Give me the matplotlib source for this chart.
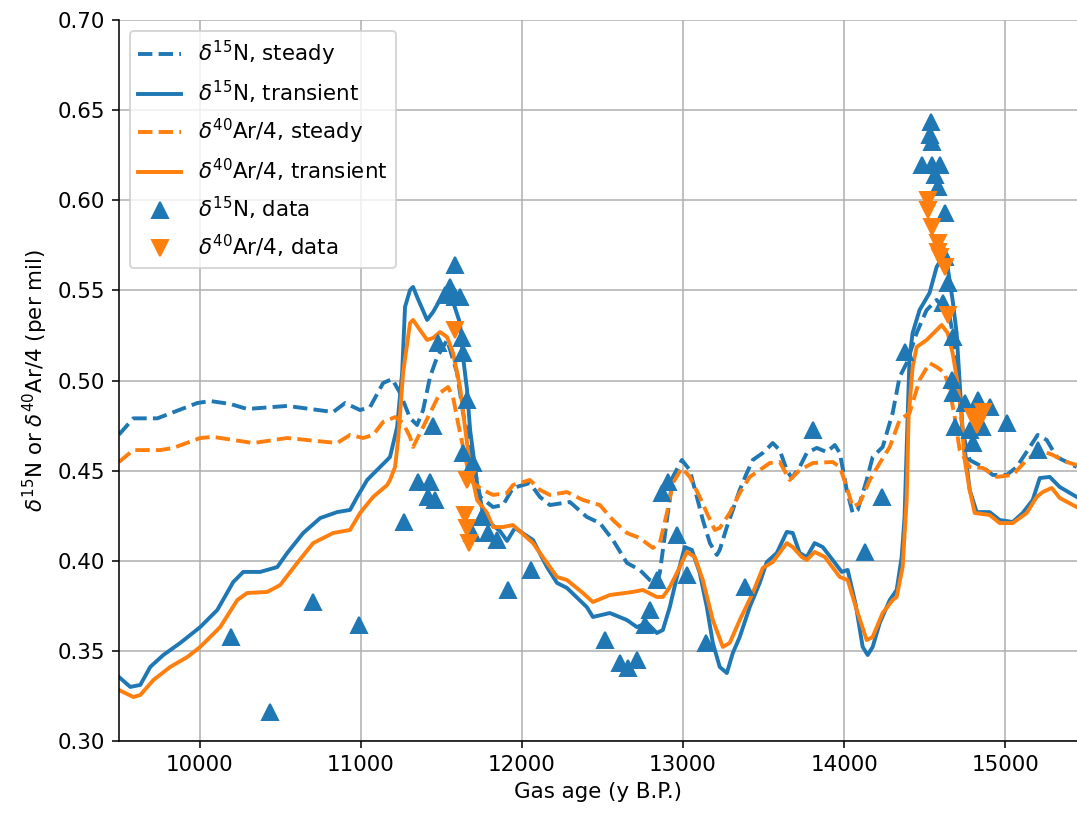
import matplotlib
matplotlib.use("Agg")
import matplotlib.pyplot as plt
import numpy as np

plt.rcParams["font.size"] = 11
plt.rcParams["lines.linewidth"] = 2

# Modelled d15N, steady-state firn
age_n_steady = [9500, 9589, 9738, 9986, 10066, 10190, 10295, 10544, 10829, 10903, 10996, 11058,
                11139, 11195, 11244, 11306, 11350, 11387, 11430, 11474, 11511, 11536, 11598, 11635,
                11679, 11741, 11821, 11883, 11945, 12050, 12112, 12174, 12298, 12403, 12484, 12565,
                12652, 12732, 12794, 12838, 12856, 12900, 12937, 12993, 13042, 13086, 13123, 13167,
                13210, 13228, 13272, 13309, 13352, 13396, 13433, 13495, 13557, 13600, 13644, 13675,
                13724, 13768, 13830, 13892, 13942, 13973, 14016, 14053, 14084, 14140, 14177, 14239,
                14301, 14344, 14388, 14450, 14512, 14574, 14611, 14655, 14673, 14698, 14717, 14736,
                14779, 14860, 14922, 15009, 15071, 15152, 15201, 15257, 15319, 15443]
n_steady = [0.470, 0.479, 0.479, 0.4875, 0.4886, 0.487, 0.4842, 0.4859, 0.4825, 0.4875, 0.4836, 0.4853,
            0.4986, 0.5008, 0.4931, 0.4792, 0.4753, 0.4836, 0.5019, 0.5130, 0.5186, 0.5225, 0.5042, 0.482,
            0.4631, 0.4354, 0.4298, 0.4309, 0.4404, 0.4431, 0.4354, 0.4309, 0.4326, 0.4243, 0.4209, 0.4115,
            0.3988, 0.3949, 0.3893, 0.3877, 0.3932, 0.4226, 0.4465, 0.4559, 0.4503, 0.4354, 0.4226, 0.4098,
            0.4032, 0.4060, 0.4187, 0.4282, 0.4393, 0.4487, 0.4559, 0.4598, 0.4653, 0.4614, 0.4503, 0.4459,
            0.4520, 0.4598, 0.4626, 0.4603, 0.4642, 0.4598, 0.4393, 0.4265, 0.4282, 0.4448, 0.4576, 0.4631,
            0.4820, 0.5019, 0.5097, 0.5264, 0.5391, 0.5447, 0.5408, 0.5352, 0.5264, 0.5075, 0.4892, 0.4709,
            0.4559, 0.4520, 0.4476, 0.4476, 0.4520, 0.4631, 0.4698, 0.4670, 0.4576, 0.4520]

# Modelled d15N, transient firn
age_n_trans = [9500, 9570, 9632, 9694, 9775, 9880, 10004, 10110, 10209, 10271, 10376, 10482, 10544,
               10643, 10749, 10854, 10934, 10978, 11040, 11120, 11164, 11182, 11226, 11257, 11275,
               11306, 11325, 11350, 11412, 11449, 11492, 11536, 11573, 11616, 11635, 11660, 11679,
               11722, 11759, 11802, 11864, 11908, 11957, 12069, 12156, 12218, 12280, 12403, 12441,
               12546, 12652, 12714, 12776, 12838, 12875, 12918, 12962, 13011, 13055, 13104, 13148,
               13185, 13228, 13272, 13309, 13352, 13414, 13476, 13520, 13582, 13644, 13681, 13724,
               13768, 13817, 13867, 13929, 13985, 14022, 14072, 14115, 14146, 14177, 14221, 14283,
               14326, 14357, 14375, 14394, 14406, 14425, 14468, 14530, 14574, 14605, 14642, 14673,
               14698, 14717, 14736, 14779, 14822, 14903, 14965, 15046, 15108, 15170, 15214, 15276,
               15338, 15443]
n_trans = [0.3355, 0.330, 0.3311, 0.3411, 0.3477, 0.3544, 0.3632, 0.3727, 0.3882, 0.3938, 0.3938, 0.3965, 0.4043,
           0.4154, 0.4237, 0.4270, 0.4282, 0.4354, 0.4448, 0.4520, 0.4559, 0.4576, 0.4742, 0.5042, 0.5408,
           0.5502, 0.5519, 0.5463, 0.5336, 0.5380, 0.5447, 0.5486, 0.5436, 0.5319, 0.5130, 0.4947, 0.4725,
           0.4431, 0.4265, 0.4209, 0.4165, 0.4110, 0.4182, 0.4115, 0.3965, 0.3877, 0.3849, 0.3743, 0.3688,
           0.3710, 0.3671, 0.3632, 0.3655, 0.3599, 0.3616, 0.3743, 0.3910, 0.4076, 0.4060, 0.3932, 0.3743,
           0.3544, 0.3411, 0.3377, 0.3488, 0.3577, 0.3743, 0.3877, 0.3993, 0.4043, 0.4160, 0.4154, 0.4043,
           0.4021, 0.4098, 0.4076, 0.4004, 0.3938, 0.3949, 0.3755, 0.3522, 0.3477, 0.3522, 0.3655, 0.3782,
           0.3838, 0.4021, 0.4243, 0.4798, 0.5130, 0.5264, 0.5391, 0.5486, 0.5630, 0.5669, 0.5630, 0.5447,
           0.5264, 0.4987, 0.4709, 0.4393, 0.4270, 0.4270, 0.4226, 0.4215, 0.4265, 0.4337, 0.4459, 0.4465,
           0.4409, 0.4354]

# Modelled d40Ar/4, steady-state firn
age_ar_steady = [9500, 9589, 9756, 9837, 10004, 10085, 10333, 10544, 10854, 10934, 11015, 11077,
                 11139, 11213, 11263, 11306, 11325, 11387, 11449, 11492, 11542, 11573, 11604, 11635,
                 11666, 11697, 11759, 11821, 11908, 11945, 12050, 12112, 12174, 12280, 12379, 12484,
                 12565, 12652, 12732, 12813, 12856, 12900, 12937, 12993, 13042, 13104, 13148, 13197,
                 13228, 13290, 13352, 13414, 13476, 13538, 13600, 13662, 13724, 13805, 13929, 13973,
                 14016, 14053, 14097, 14159, 14221, 14283, 14344, 14406, 14468, 14530, 14574, 14624,
                 14655, 14686, 14717, 14779, 14860, 14947, 15046, 15133, 15214, 15294, 15381, 15443]
ar_steady = [0.4548, 0.4614, 0.4614, 0.4626, 0.4681, 0.4687, 0.4653, 0.4681, 0.4653, 0.4698, 0.4681, 0.4698,
             0.4770, 0.4797, 0.4764, 0.4687, 0.4631, 0.4742, 0.4853, 0.4931, 0.4964, 0.4908, 0.4764, 0.4631,
             0.4503, 0.4431, 0.4393, 0.4365, 0.4376, 0.4420, 0.4448, 0.4393, 0.4365, 0.4381, 0.4337, 0.4309,
             0.4226, 0.4154, 0.4126, 0.4071, 0.4098, 0.4265, 0.4431, 0.4515, 0.4465, 0.4354, 0.4265, 0.4171,
             0.4182, 0.4265, 0.4376, 0.4465, 0.4503, 0.4542, 0.4548, 0.4448, 0.4503, 0.4542, 0.4548, 0.4520,
             0.4409, 0.4298, 0.4320, 0.4448, 0.4542, 0.4631, 0.4781, 0.4820, 0.5003, 0.5097, 0.5075, 0.5042,
             0.4947, 0.4797, 0.4614, 0.4520, 0.4515, 0.4465, 0.4476, 0.4559, 0.4614, 0.4587, 0.4548, 0.4531]

# Modelled d40Ar/4, transient firn
age_ar_trans = [9500, 9589, 9632, 9713, 9818, 9924, 10004, 10128, 10234, 10295, 10420, 10500, 10606,
                10705, 10829, 10934, 10996, 11077, 11164, 11182, 11213, 11232, 11263, 11306, 11325,
                11368, 11412, 11449, 11492, 11536, 11573, 11616, 11647, 11679, 11722, 11784, 11821,
                11883, 11945, 12069, 12156, 12218, 12280, 12379, 12441, 12546, 12689, 12751, 12838,
                12875, 12918, 12962, 13024, 13073, 13123, 13185, 13247, 13290, 13352, 13433, 13495,
                13557, 13644, 13681, 13737, 13768, 13817, 13880, 13973, 14022, 14078, 14140, 14177,
                14239, 14301, 14326, 14363, 14388, 14400, 14425, 14450, 14512, 14574, 14605, 14642,
                14673, 14704, 14729, 14748, 14779, 14810, 14903, 14965, 15046, 15133, 15195, 15232,
                15288, 15338, 15443]
ar_trans = [0.3283, 0.3244, 0.3255, 0.3338, 0.3411, 0.3466, 0.3522, 0.3632, 0.3782, 0.3821, 0.3827, 0.3865, 0.3988,
            0.4098, 0.4154, 0.4171, 0.4265, 0.4354, 0.4420, 0.4448, 0.4520, 0.4670, 0.5042, 0.5319, 0.5336,
            0.5280, 0.5225, 0.5236, 0.5269, 0.5241, 0.5153, 0.4964, 0.4742, 0.4520, 0.4337, 0.4265, 0.4187,
            0.4187, 0.4198, 0.4098, 0.3988, 0.3910, 0.3893, 0.3821, 0.3771, 0.3810, 0.3827, 0.3838, 0.3799,
            0.3799, 0.3854, 0.3932, 0.4049, 0.4021, 0.3893, 0.3671, 0.3522, 0.3544, 0.3671, 0.3821, 0.3960,
            0.3993, 0.4098, 0.4076, 0.4021, 0.4004, 0.4049, 0.4021, 0.3910, 0.3893, 0.3727, 0.3560, 0.3577,
            0.3710, 0.3782, 0.3799, 0.3965, 0.4337, 0.4798, 0.5075, 0.5186, 0.5225, 0.5280, 0.5308, 0.5264,
            0.5153, 0.4986, 0.4798, 0.4559, 0.4393, 0.4265, 0.4254, 0.4209, 0.4209, 0.4265, 0.4354, 0.4381,
            0.4404, 0.4348, 0.4298]

# Measured d15N
age_n_data = [10192, 10440, 10705, 10990, 11269, 11356, 11430, 11418, 11461, 11449, 11480, 11523,
              11554, 11585, 11616, 11585, 11629, 11635, 11660, 11635, 11697, 11753, 11691, 11790,
              11846, 11914, 12057, 12516, 12609, 12658, 12714, 12764, 12794, 12838, 12869, 12906,
              12962, 13024, 13142, 13384, 13805, 14127, 14233, 14375, 14537, 14530, 14543, 14481,
              14543, 14592, 14561, 14580, 14624, 14624, 14642, 14611, 14673, 14667, 14673, 14748,
              14829, 14903, 15009, 14686, 14779, 14853, 14797, 15201]
n_data = [0.3577, 0.3161, 0.3771, 0.3644, 0.4215, 0.4437, 0.4437, 0.4354, 0.4337, 0.4748, 0.5208, 0.5474,
          0.5519, 0.5463, 0.5463, 0.5641, 0.5236, 0.5153, 0.4892, 0.4598, 0.4542, 0.4243, 0.4154, 0.4154,
          0.4115, 0.3838, 0.3949, 0.3560, 0.3433, 0.3405, 0.3449, 0.3644, 0.3727, 0.3893, 0.4376, 0.4437,
          0.4143, 0.3921, 0.3544, 0.3854, 0.4725, 0.4049, 0.4354, 0.5158, 0.6434, 0.6362, 0.6323, 0.6196,
          0.6196, 0.6196, 0.6140, 0.6073, 0.5929, 0.5685, 0.5541, 0.5430, 0.5241, 0.5003, 0.4931, 0.4875,
          0.4892, 0.4853, 0.4764, 0.4742, 0.4725, 0.4742, 0.4653, 0.4614]

# Measured d40Ar/4
age_ar_data = [11585, 11660, 11647, 11660, 11673, 14518, 14518, 14543, 14580, 14580, 14592, 14624,
               14642, 14797, 14840, 14860, 14822]
ar_data = [0.5280, 0.4448, 0.4254, 0.4182, 0.4098, 0.6001, 0.5946, 0.5852, 0.5763, 0.5713, 0.5685, 0.5630,
           0.5363, 0.4797, 0.4797, 0.4825, 0.4753]

blue = "#1f77b4"
orange = "#ff7f0e"

fig = plt.figure(figsize=(1077 / 140, 819 / 140), dpi=140)
ax = fig.add_axes([119 / 1077, 78 / 819, 958 / 1077, 721 / 819])

ax.plot(age_n_steady, n_steady, "--", color=blue, label=r"$\delta^{15}$N, steady")
ax.plot(age_n_trans, n_trans, "-", color=blue, label=r"$\delta^{15}$N, transient")
ax.plot(age_ar_steady, ar_steady, "--", color=orange, label=r"$\delta^{40}$Ar/4, steady")
ax.plot(age_ar_trans, ar_trans, "-", color=orange, label=r"$\delta^{40}$Ar/4, transient")
ax.plot(age_n_data, n_data, "^", color=blue, ms=8, ls="none", label=r"$\delta^{15}$N, data")
ax.plot(age_ar_data, ar_data, "v", color=orange, ms=8, ls="none", label=r"$\delta^{40}$Ar/4, data")

ax.set_xlim(9500, 15445)
ax.set_ylim(0.30, 0.70)
ax.set_xticks([10000, 11000, 12000, 13000, 14000, 15000])
ax.set_yticks(np.arange(0.30, 0.701, 0.05))
ax.set_xlabel("Gas age (y B.P.)")
ax.set_ylabel(r"$\delta^{15}$N or $\delta^{40}$Ar/4 (per mil)")
ax.grid(True)
ax.spines["top"].set_visible(False)
ax.spines["right"].set_visible(False)
ax.legend(loc="upper left")

fig.savefig("out.png", dpi=140)
